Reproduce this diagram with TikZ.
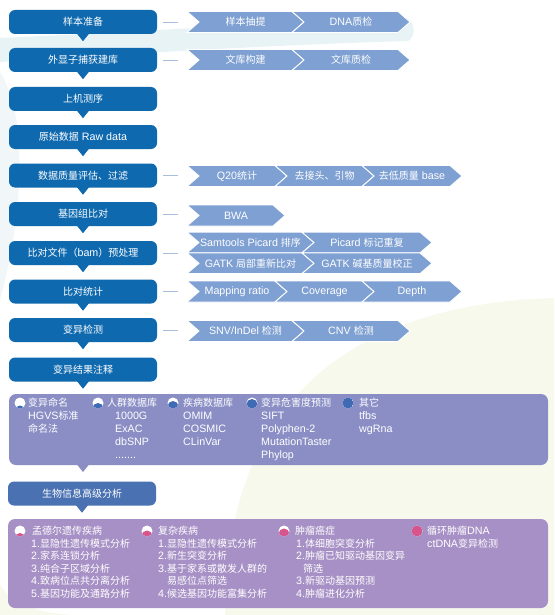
\documentclass[tikz,border=0pt]{standalone}
\usepackage{fontspec}
\setmainfont{Noto Sans CJK SC}
\newfontfamily\lat{Liberation Sans}[Scale=1.07]
\newcommand\la[1]{{\lat #1}}
\definecolor{boxblue}{HTML}{0E69AF}
\definecolor{boxB}{HTML}{4A72B2}
\definecolor{chevc}{HTML}{7FA0D2}
\definecolor{panelA}{HTML}{8A8EC5}
\definecolor{panelB}{HTML}{A690C5}
\definecolor{dashc}{HTML}{A9BFD9}
\definecolor{bulA}{HTML}{3F6BB5}
\definecolor{bulB}{HTML}{D7558D}
\definecolor{bgblue}{HTML}{E8F3F6}
\definecolor{bggreen}{HTML}{F7F9EC}
\tikzset{
  stepbox/.style={fill=boxblue, rounded corners=6pt, minimum width=148pt, minimum height=24pt, inner sep=0pt, text=white, font=\fontsize{10}{12}\selectfont},
  chevtext/.style={text=white, font=\fontsize{10}{12}\selectfont, inner sep=0pt},
  ptext/.style={text=white, font=\fontsize{10}{12}\selectfont, inner sep=0pt, anchor=base west},
  dashline/.style={draw=dashc, line width=0.8pt},
  panelbox/.style={rounded corners=7pt, inner sep=0pt},
}
% chevron: name, x0, x1, y centre, half height, text
\newcommand\chv[6]{%
  \fill[chevc, draw=white, line width=0.9pt] (#2,#4-#5) -- (#3,#4-#5) -- (#3+12,#4) -- (#3,#4+#5) -- (#2,#4+#5) -- (#2+12,#4) -- cycle;
  \node[chevtext] (#1) at ({(#2+#3)/2+6},#4) {#6};}
% pointer triangle under a node anchor
\newcommand\ptr[2]{\fill[#2] ([xshift=-6pt,yshift=0.5pt]#1) -- ([xshift=6pt,yshift=0.5pt]#1) -- ([yshift=-7pt]#1) -- cycle;}
% dash connector right of a box
\newcommand\dsh[1]{\draw[dashline] ([xshift=6pt]#1.east) -- ([xshift=21pt]#1.east);}
% text line: name, x, y centre, text
\newcommand\tl[4]{\node[ptext] (#1) at (#2,#3+3.7) {#4};}
% bullet: name, x, y, colour, offset
\newcommand\bul[5]{%
  \node[circle, fill=white, minimum size=11pt, inner sep=0pt] (#1) at (#2,#3) {};
  \begin{scope}
    \clip (#2,#3) circle (5.5pt);
    \fill[#4] (#2,#3+#5) circle (5.5pt);
  \end{scope}}
\begin{document}
\begin{tikzpicture}[x=1pt,y=-1pt]
\fill[white] (0,0) rectangle (554,615);
\useasboundingbox (0,0) rectangle (554,615);
% background decorations
\fill[bgblue] (0,38) .. controls (150,31) and (300,22) .. (405,17) .. controls (416,22) and (416,36) .. (408,41) .. controls (300,44) and (150,52) .. (0,62) -- cycle;
\fill[bgblue, opacity=0.6] (0,72) .. controls (30,120) and (22,220) .. (0,300) -- cycle;
\fill[bggreen] (225,615) .. controls (225,420) and (330,305) .. (554,298) -- (554,615) -- cycle;
\fill[bggreen] (0,585) .. controls (10,603) and (35,612) .. (70,615) -- (0,615) -- cycle;

% left column steps
\node[stepbox] (b1) at (83,22) {样本准备};
\node[stepbox] (b2) at (83,60) {外显子捕获建库};
\node[stepbox] (b3) at (83,99) {上机测序};
\node[stepbox] (b4) at (83,137) {原始数据\la{ Raw data}};
\node[stepbox] (b5) at (83,175.5) {数据质量评估、过滤};
\node[stepbox] (b6) at (83,214) {基因组比对};
\node[stepbox] (b7) at (83,253) {比对文件（\la{bam}）预处理};
\node[stepbox] (b8) at (83,291.5) {比对统计};
\node[stepbox] (b9) at (83,330) {变异检测};
\node[stepbox] (b10) at (83,369.5) {变异结果注释};
\foreach \n in {b1,b2,b3,b4,b5,b6,b7,b8,b9,b10} {\ptr{\n.south}{boxblue}}

% dashes
\foreach \n in {b1,b2,b5,b6,b7,b8,b9} {\dsh{\n}}

% chevrons
\chv{c11}{187}{292}{22}{10.5}{样本抽提}
\chv{c12}{292}{398}{22}{10.5}{\la{DNA}质检}
\chv{c21}{187}{292}{60}{10.5}{文库构建}
\chv{c22}{292}{398}{60}{10.5}{文库质检}
\chv{c51}{187}{275}{176}{10.5}{\la{Q20}统计}
\chv{c52}{275}{362}{176}{10.5}{去接头、引物}
\chv{c53}{362}{450}{176}{10.5}{去低质量\la{ base}}
\chv{c61}{187}{273}{215.5}{10.5}{\la{BWA}}
\chv{c71}{187}{302}{242.5}{10.3}{\la{Samtools Picard }排序}
\chv{c72}{302}{420}{242.5}{10.3}{\la{Picard }标记重复}
\chv{c73}{187}{302}{263.3}{10.3}{\la{GATK }局部重新比对}
\chv{c74}{302}{420}{263.3}{10.3}{\la{GATK }碱基质量校正}
\chv{c81}{187}{275}{291.5}{10.5}{\la{Mapping ratio}}
\chv{c82}{275}{362}{291.5}{10.5}{\la{Coverage}}
\chv{c83}{362}{450}{291.5}{10.5}{\la{Depth}}
\chv{c91}{187}{292}{331}{10.5}{\la{SNV/InDel }检测}
\chv{c92}{292}{398}{331}{10.5}{\la{CNV }检测}

% annotation panel
\node[panelbox, fill=panelA, minimum width=539pt, minimum height=71pt] (pA) at (278.5,429.5) {};
\coordinate (pAptr) at (83,465);
\ptr{pAptr}{panelA}
\bul{ba1}{20}{403}{bulA}{8}
\bul{ba2}{98}{403}{bulA}{5.5}
\bul{ba3}{173}{403}{bulA}{3.5}
\bul{ba4}{252}{403}{bulA}{1.5}
\bul{ba5}{348}{403}{bulA}{0}
\tl{a11}{28}{403}{变异命名}
\tl{a12}{28}{416}{\la{HGVS}标准}
\tl{a13}{28}{429}{命名法}
\tl{a21}{107}{403}{人群数据库}
\tl{a22}{115}{416}{\la{1000G}}
\tl{a23}{115}{429}{\la{ExAC}}
\tl{a24}{115}{442}{\la{dbSNP}}
\tl{a25}{115}{455}{\la{.......}}
\tl{a31}{183}{403}{疾病数据库}
\tl{a32}{183}{416}{\la{OMIM}}
\tl{a33}{183}{429}{\la{COSMIC}}
\tl{a34}{183}{442}{\la{CLinVar}}
\tl{a41}{261}{403}{变异危害度预测}
\tl{a42}{261}{416}{\la{SIFT}}
\tl{a43}{261}{429}{\la{Polyphen-2}}
\tl{a44}{261}{442}{\la{MutationTaster}}
\tl{a45}{261}{455}{\la{Phylop}}
\tl{a51}{359}{403}{其它}
\tl{a52}{359}{416}{\la{tfbs}}
\tl{a53}{359}{429}{\la{wgRna}}

% advanced analysis
\node[stepbox, fill=boxB] (b11) at (82,493.5) {生物信息高级分析};
\ptr{b11.south}{boxB}
\node[panelbox, fill=panelB, minimum width=540pt, minimum height=89pt] (pB) at (278,563.5) {};
\bul{bb1}{20}{531}{bulB}{7.5}
\bul{bb2}{147}{531}{bulB}{5}
\bul{bb3}{284}{531}{bulB}{3}
\bul{bb4}{417}{531}{bulB}{0}
\tl{d11}{32}{531}{孟德尔遗传疾病}
\tl{d12}{31}{543.5}{\la{1.}显隐性遗传模式分析}
\tl{d13}{31}{556}{\la{2.}家系连锁分析}
\tl{d14}{31}{568.5}{\la{3.}纯合子区域分析}
\tl{d15}{31}{581}{\la{4.}致病位点共分离分析}
\tl{d16}{31}{593.5}{\la{5.}基因功能及通路分析}
\tl{d21}{158}{531}{复杂疾病}
\tl{d22}{158}{543.5}{\la{1.}显隐性遗传模式分析}
\tl{d23}{158}{556}{\la{2.}新生突变分析}
\tl{d24}{158}{568.5}{\la{3.}基于家系或散发人群的}
\tl{d25}{167}{581}{易感位点筛选}
\tl{d26}{158}{593.5}{\la{4.}候选基因功能富集分析}
\tl{d31}{295}{531}{肿瘤癌症}
\tl{d32}{296}{543.5}{\la{1.}体细胞突变分析}
\tl{d33}{296}{556}{\la{2.}肿瘤已知驱动基因变异}
\tl{d34}{303}{568.5}{筛选}
\tl{d35}{296}{581}{\la{3.}新驱动基因预测}
\tl{d36}{296}{593.5}{\la{4.}肿瘤进化分析}
\tl{d41}{427}{531}{循环肿瘤\la{DNA}}
\tl{d42}{427}{543.5}{\la{ctDNA}变异检测}
\end{tikzpicture}
\end{document}
